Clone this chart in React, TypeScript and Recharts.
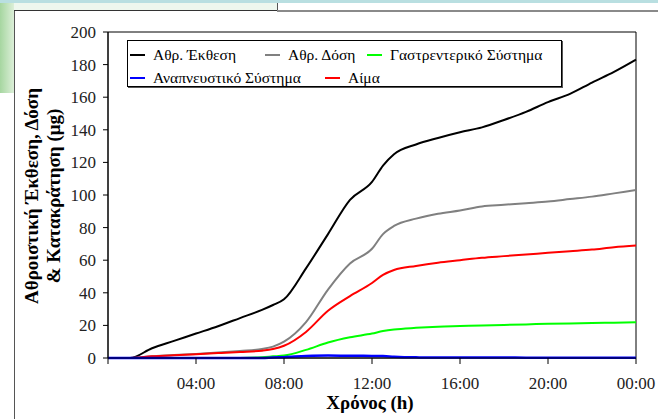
import React from 'react';
import { LineChart, Line, XAxis, YAxis, ReferenceArea, Legend } from 'recharts';

// time in hours since start (24 = 00:00 next day)
const hours = [0, 1, 2, 3, 4, 5, 6, 7, 7.5, 8, 9, 10, 11, 12, 12.5, 13, 14, 15, 16, 17, 18, 19, 20, 21, 22, 23, 24];

// values in μg, read off the figure
const exposure = [0, 0, 6, 10.5, 15, 19.5, 24.5, 29.5, 32.5, 36, 55, 76, 97, 108, 118, 125, 131, 135, 138.5, 141.5, 146, 151, 157, 162, 169, 175.5, 183];
const dose = [0, 0, 1, 1.8, 2.5, 3.3, 4.3, 5.5, 7, 10, 22, 42, 58, 67, 76, 81, 85.5, 88.5, 90.5, 93, 94, 95, 96, 97.5, 99, 101, 103];
const gastro = [0, 0, 0, 0, 0, 0, 0, 0.5, 1, 1.5, 5, 9.5, 12.7, 15, 16.5, 17.5, 18.5, 19.2, 19.6, 20, 20.3, 20.6, 21, 21.2, 21.4, 21.7, 22];
const respiratory = [0, 0, 0, 0, 0, 0, 0, 0, 0.3, 0.5, 1.2, 1.5, 1.4, 1.3, 1.2, 0.8, 0.4, 0.3, 0.3, 0.3, 0.3, 0.2, 0.2, 0.2, 0.2, 0.2, 0.2];
const blood = [0, 0, 1, 1.7, 2.3, 3, 3.7, 4.5, 5.5, 7.5, 16, 29, 38, 46, 51, 54, 56.5, 58.5, 60, 61.5, 62.5, 63.5, 64.5, 65.5, 66.5, 68, 69];

const xTicks = [0, 4, 8, 12, 16, 20, 24];
const xTickLabels = ['', '04:00', '08:00', '12:00', '16:00', '20:00', '00:00'];
const yTicks = [0, 20, 40, 60, 80, 100, 120, 140, 160, 180, 200];

const seriesNames = ['Αθρ. Έκθεση', 'Αθρ. Δόση', 'Γαστρεντερικό Σύστημα', 'Αναπνευστικό Σύστημα', 'Αίμα'];

const data = hours.map((h, i) => ({
  h,
  exposure: exposure[i],
  dose: dose[i],
  gastro: gastro[i],
  respiratory: respiratory[i],
  blood: blood[i],
}));

const FONT = "'Liberation Serif', 'Times New Roman', 'DejaVu Serif', serif";

const series = [
  { key: 'exposure', name: seriesNames[0], color: '#000000' },
  { key: 'dose', name: seriesNames[1], color: '#808080' },
  { key: 'gastro', name: seriesNames[2], color: '#00ff00' },
  { key: 'respiratory', name: seriesNames[3], color: '#0000ff' },
  { key: 'blood', name: seriesNames[4], color: '#ff0000' },
];

// legend rows as laid out in the original (left offset inside the box)
const legendRows = [
  [{ i: 0, left: 2 }, { i: 1, left: 137 }, { i: 2, left: 239 }],
  [{ i: 3, left: 2 }, { i: 4, left: 197 }],
];

function LegendBox() {
  return (
    <div
      style={{
        position: 'relative',
        width: 433,
        height: 45,
        border: '1px solid #000',
        boxShadow: '1px 1px 0 #555',
        background: '#fff',
        fontFamily: FONT,
        fontSize: 15.5,
        color: '#000',
      }}
    >
      {legendRows.map((row, r) =>
        row.map(({ i, left }) => (
          <div
            key={`${r}-${i}`}
            style={{
              position: 'absolute',
              left,
              top: r === 0 ? 5 : 28,
              height: 18,
              display: 'flex',
              alignItems: 'center',
              whiteSpace: 'nowrap',
            }}
          >
            <span style={{ width: 15, height: 2, background: series[i].color, marginRight: 8 }} />
            <span>{series[i].name}</span>
          </div>
        ))
      )}
    </div>
  );
}

function YTitle() {
  return (
    <g>
      <text x={31} y={196} transform="rotate(-90 31 196)" textAnchor="middle" dominantBaseline="central" fontFamily={FONT} fontSize={19} fontWeight="bold" fill="#000">
        Αθροιστική Έκθεση, Δόση
      </text>
      <text x={53} y={196} transform="rotate(-90 53 196)" textAnchor="middle" dominantBaseline="central" fontFamily={FONT} fontSize={19} fontWeight="bold" fill="#000">
        & Κατακράτηση (μg)
      </text>
    </g>
  );
}

function XTitle() {
  return (
    <text x={370} y={402} textAnchor="middle" dominantBaseline="central" fontFamily={FONT} fontSize={19} fontWeight="bold" fill="#000">
      Χρόνος (h)
    </text>
  );
}

export default function App() {
  const tickStyle = { fill: '#222', fontSize: 17, fontFamily: FONT };
  return (
    <div style={{ position: 'fixed', left: 0, top: 0, width: 658, height: 419, background: '#fff', overflow: 'hidden' }}>
      {/* slide frame bits around the chart */}
      <div style={{ position: 'absolute', left: 0, top: 0, width: 658, height: 3, background: '#b9dfe1' }} />
      <div style={{ position: 'absolute', left: 0, top: 3, width: 14, height: 90, background: 'linear-gradient(to right, #a6d6a0, #dcefd8)' }} />
      <div style={{ position: 'absolute', left: 14, top: 3, width: 263, height: 7, background: '#eef7ee' }} />
      <div style={{ position: 'absolute', left: 14, top: 10, width: 1, height: 409, background: '#555' }} />
      <div style={{ position: 'absolute', left: 14, top: 10, width: 263, height: 1, background: '#333' }} />
      <div style={{ position: 'absolute', left: 277, top: 3, width: 1, height: 8, background: '#555' }} />
      <div style={{ position: 'absolute', left: 277, top: 10, width: 381, height: 2, background: '#8a8a8a' }} />

      <LineChart width={658} height={419} data={data} margin={{ top: 32, right: 22, bottom: 21, left: 48 }} style={{ fontFamily: FONT }}>
        <ReferenceArea x1={0} x2={24} y1={0} y2={200} fill="none" stroke="#000" strokeWidth={1} ifOverflow="visible" />
        <XAxis
          dataKey="h"
          type="number"
          domain={[0, 24]}
          ticks={xTicks}
          interval={0}
          tickFormatter={(v: number) => xTickLabels[xTicks.indexOf(v)]}
          tickSize={6}
          tickMargin={13}
          height={40}
          stroke="#000"
          tick={tickStyle}
          label={{ content: <XTitle /> }}
        />
        <YAxis
          type="number"
          domain={[0, 200]}
          ticks={yTicks}
          interval={0}
          tickSize={5}
          tickMargin={7}
          width={60}
          stroke="#000"
          tick={tickStyle}
          label={{ content: <YTitle /> }}
        />
        <Legend
          layout="horizontal"
          verticalAlign="middle"
          align="center"
          content={<LegendBox />}
          wrapperStyle={{ position: 'absolute', top: 40, left: 127, width: 435, height: 47 }}
        />
        <Line type="monotone" dataKey="exposure" name={seriesNames[0]} stroke="#000000" strokeWidth={2} dot={false} isAnimationActive={false} />
        <Line type="monotone" dataKey="dose" name={seriesNames[1]} stroke="#808080" strokeWidth={2} dot={false} isAnimationActive={false} />
        <Line type="monotone" dataKey="gastro" name={seriesNames[2]} stroke="#00ff00" strokeWidth={2} dot={false} isAnimationActive={false} />
        <Line type="monotone" dataKey="blood" name={seriesNames[4]} stroke="#ff0000" strokeWidth={2} dot={false} isAnimationActive={false} />
        <Line type="monotone" dataKey="respiratory" name={seriesNames[3]} stroke="#0000ff" strokeWidth={2.5} dot={false} isAnimationActive={false} />
      </LineChart>
    </div>
  );
}
